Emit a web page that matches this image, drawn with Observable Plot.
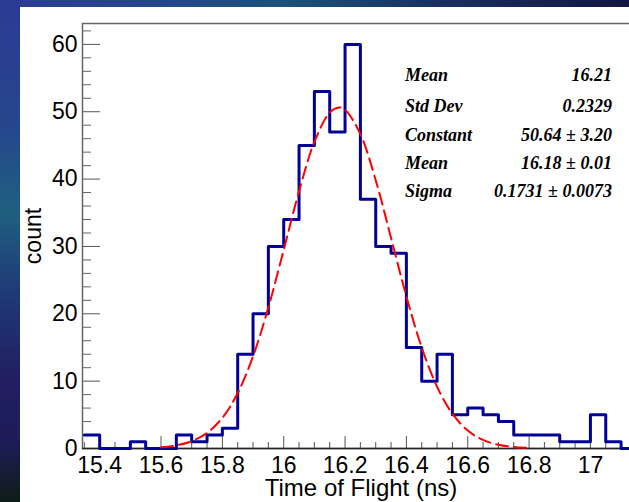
<!DOCTYPE html>
<html><head><meta charset="utf-8">
<script src="https://cdn.jsdelivr.net/npm/d3@7"></script>
<script src="https://cdn.jsdelivr.net/npm/@observablehq/plot@0.6"></script>
<style>
body{margin:0;width:629px;height:502px;overflow:hidden;position:relative;background:#fff;}
#bgTop{position:absolute;left:0;top:0;width:629px;height:7px;background:linear-gradient(90deg,#2c3b94 0%,#25468b 25%,#1d5278 45%,#18305f 70%,#121640 100%);}
#bgLeft{position:absolute;left:0;top:0;width:20px;height:502px;background:linear-gradient(180deg,#2c3b94 0%,#26468c 25%,#1f6080 42%,#1f3a78 58%,#211f62 75%,#1d1c58 88%,#0e1c14 100%);}
#chart{position:absolute;left:0;top:0;}
.stat{position:absolute;font-family:"Liberation Serif","Times New Roman",serif;font-weight:bold;font-style:italic;font-size:18px;color:#000;line-height:1;white-space:nowrap;}
</style></head>
<body>
<div id="bgTop"></div><div id="bgLeft"></div>
<div id="chart"></div>
<script>
// Histogram bin left edges (ns) and counts
const binEdges = [15.35,15.40,15.45,15.50,15.55,15.60,15.65,15.70,15.75,15.80,15.85,15.90,15.95,16.00,16.05,16.10,16.15,16.20,16.25,16.30,16.35,16.40,16.45,16.50,16.55,16.60,16.65,16.70,16.75,16.80,16.85,16.90,16.95,17.00,17.05,17.10,17.15];
const counts   = [2,0,0,1,0,0,2,1,2,3,14,20,30,34,45,53,47,60,37,30,29,15,10,14,5,6,5,4,2,2,2,1,1,5,1,0];
// Gaussian fit curve, read at points along the dashed line
const fitX = [15.60,15.65,15.70,15.75,15.80,15.85,15.90,15.95,16.00,16.05,16.10,16.15,16.18,16.20,16.25,16.30,16.35,16.40,16.45,16.50,16.55,16.60,16.65,16.70,16.75,16.80];
const fitY = [0.18,0.47,1.08,2.32,4.55,8.23,13.69,20.95,29.49,38.20,45.51,49.88,50.64,50.30,46.67,39.82,31.27,22.58,15.00,9.17,5.16,2.67,1.27,0.56,0.22,0.08];
// Axes
const xDomain = [15.344, 17.16];
const yDomain = [0, 63.1];
const xMajorTicks = [15.4,15.6,15.8,16,16.2,16.4,16.6,16.8,17];
const xMinorTicks = [15.35,15.45,15.5,15.55,15.65,15.7,15.75,15.85,15.9,15.95,16.05,16.1,16.15,16.25,16.3,16.35,16.45,16.5,16.55,16.65,16.7,16.75,16.85,16.9,16.95,17.05,17.1,17.15];
const yMajorTicks = [0,10,20,30,40,50,60];
const yMinorTicks = [2,4,6,8,12,14,16,18,22,24,26,28,32,34,36,38,42,44,46,48,52,54,56,58,62];
const xLabel = "Time of Flight (ns)";
const yLabel = "count";
// Stats box
const statLabels = ["Mean","Std Dev","Constant","Mean","Sigma"];
const statValues = ["16.21","0.2329","50.64 \u00b1 3.20","16.18 \u00b1 0.01","0.1731 \u00b1 0.0073"];

const histData = binEdges.map((e, i) => ({x: e, y: counts[Math.min(i, counts.length - 1)]}));
const fitData = fitX.map((x, i) => ({x, y: fitY[i]}));

const plot = Plot.plot({
  width: 629, height: 502,
  marginLeft: 82, marginTop: 23, marginRight: -10, marginBottom: 54,
  style: {background: "transparent", fontFamily: "'Liberation Sans', Arial, sans-serif", fontSize: "23px", color: "#000"},
  x: {domain: xDomain, label: xLabel, labelArrow: "none"},
  y: {domain: yDomain, label: yLabel, labelArrow: "none"},
  marks: [
    Plot.axisY(yMinorTicks, {tickSize: -9, tickFormat: () => "", label: null, stroke: "#666"}),
    Plot.axisY(yMajorTicks, {tickSize: -18, tickPadding: 23, stroke: "#555", label: yLabel, labelArrow: "none", labelAnchor: "center", labelOffset: 58, fontSize: 23}),
    Plot.axisX(xMinorTicks, {tickSize: -6, tickFormat: () => "", label: null, stroke: "#555"}),
    Plot.axisX(xMajorTicks, {tickSize: -12, tickPadding: 20, stroke: "#555", label: null, tickFormat: d => String(d), fontSize: 23}),
    Plot.axisX({ticks: [], tickSize: 0, label: xLabel, labelArrow: "none", labelAnchor: "center", labelOffset: 47, fontSize: 24}),
    Plot.frame({stroke: "#666", strokeWidth: 1.5}),
    Plot.ruleY([0], {stroke: "#222", strokeWidth: 1.5}),
    Plot.line(histData, {x: "x", y: "y", curve: "step-after", stroke: "#000099", strokeWidth: 3}),
    Plot.line(fitData, {x: "x", y: "y", curve: "catmull-rom", stroke: "#ff0000", strokeWidth: 2, strokeDasharray: "12,6"})
  ]
});
document.getElementById("chart").appendChild(plot);

const rowTops = [66, 97, 126, 154, 182];
statLabels.forEach((s, i) => {
  const d = document.createElement("div");
  d.className = "stat"; d.textContent = s;
  d.style.left = "405px"; d.style.top = rowTops[i] + "px";
  document.body.appendChild(d);
  const v = document.createElement("div");
  v.className = "stat"; v.textContent = statValues[i];
  v.style.right = (629 - 612) + "px"; v.style.top = rowTops[i] + "px";
  document.body.appendChild(v);
});
</script>
</body></html>
